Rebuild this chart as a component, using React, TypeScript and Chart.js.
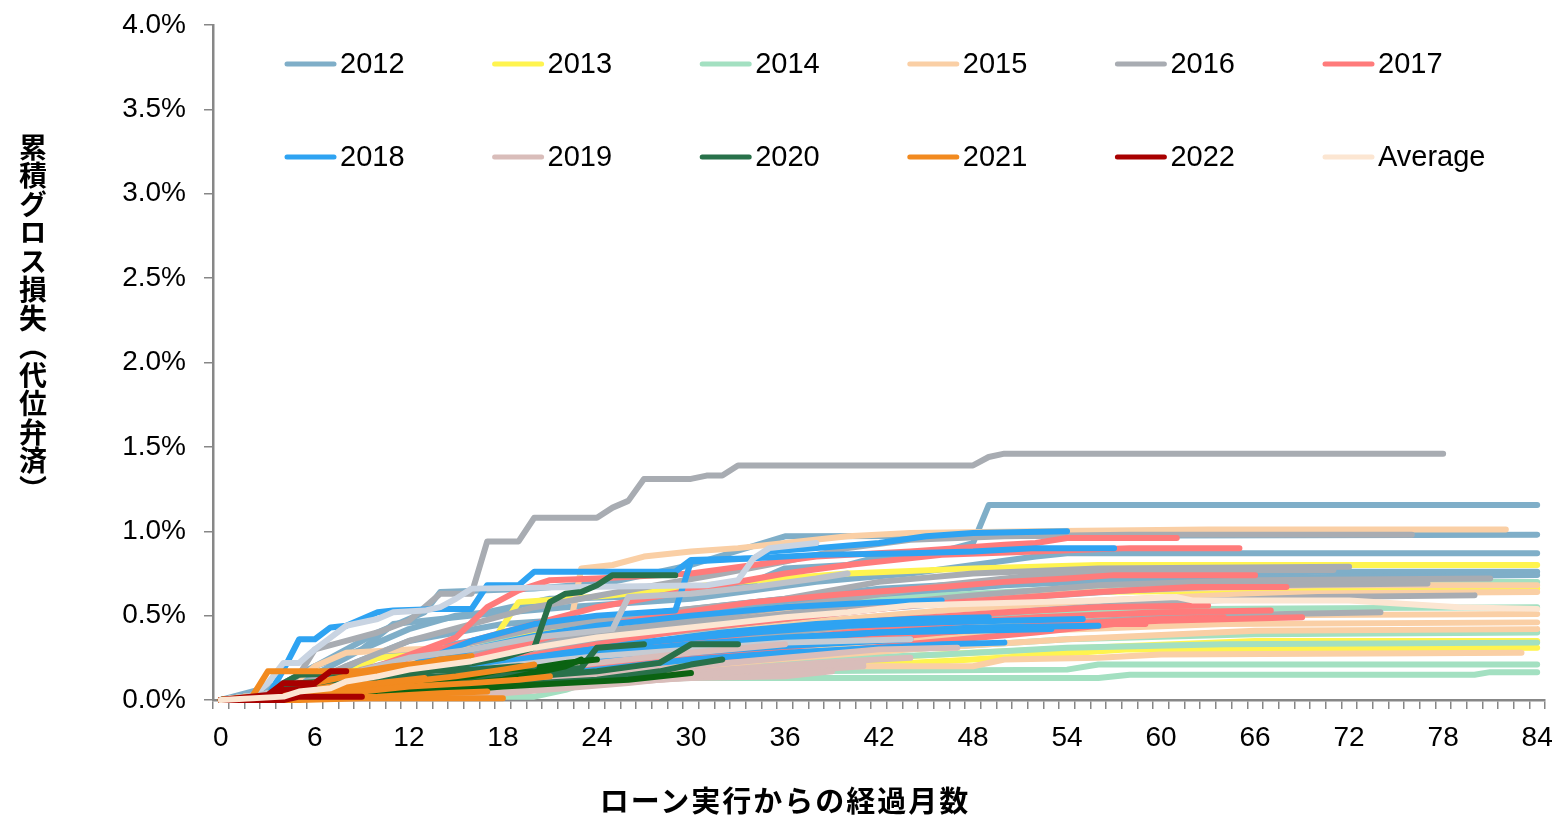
import React, { useEffect, useRef } from 'react';
import { Chart, registerables } from 'chart.js';

Chart.register(...registerables);

type Pt = [number, number];

// ---------- axis / legend text ----------
const MONTHS: string[] = Array.from({ length: 85 }, (_, i) => String(i));
const X_LABEL_EVERY = 6;
const Y_MIN = 0;
const Y_MAX = 4;
const Y_STEP = 0.5;
const LEGEND_LABELS = ['2012', '2013', '2014', '2015', '2016', '2017', '2018', '2019', '2020', '2021', '2022', 'Average'];
const Y_TITLE = '累積グロス損失（代位弁済）';
const X_TITLE = 'ローン実行からの経過月数';

// ---------- series: [month, cumulative loss %] breakpoints ----------
// 2012
const S2012_A: Pt[] = [[0, 0], [3, 0.05], [6, 0.2], [9, 0.3], [12, 0.42], [15, 0.5], [17, 0.52], [21, 0.6], [30, 0.62], [34, 0.7], [36, 0.78], [40, 0.8], [42, 0.85], [46, 0.88], [48, 0.93], [49, 1.155], [84, 1.155]];
const S2012_B: Pt[] = [[0, 0], [4, 0.1], [7, 0.25], [10, 0.4], [13, 0.52], [14, 0.64], [20, 0.66], [25, 0.7], [30, 0.8], [36, 0.97], [84, 0.98]];
const S2012_C: Pt[] = [[0, 0], [3, 0.02], [6, 0.15], [9, 0.3], [11, 0.45], [16, 0.5], [22, 0.55], [30, 0.6], [38, 0.7], [44, 0.75], [52, 0.85], [54, 0.87], [84, 0.87]];
const S2012_D: Pt[] = [[0, 0], [5, 0.05], [8, 0.2], [12, 0.35], [18, 0.45], [26, 0.5], [34, 0.58], [42, 0.66], [50, 0.7], [60, 0.74], [70, 0.76], [84, 0.76]];
const S2012_E: Pt[] = [[0, 0], [6, 0.1], [10, 0.25], [16, 0.35], [24, 0.45], [34, 0.55], [42, 0.62], [50, 0.68], [60, 0.72], [84, 0.74]];
// 2013
const S2013_A: Pt[] = [[0, 0], [4, 0.05], [8, 0.15], [10, 0.25], [17, 0.3], [19, 0.58], [25, 0.62], [33, 0.7], [40, 0.75], [48, 0.78], [56, 0.8], [84, 0.8]];
const S2013_B: Pt[] = [[0, 0], [6, 0.03], [12, 0.08], [18, 0.12], [24, 0.15], [36, 0.22], [48, 0.28], [58, 0.32], [66, 0.35], [84, 0.35]];
const S2013_C: Pt[] = [[0, 0], [8, 0.02], [16, 0.06], [24, 0.12], [36, 0.18], [48, 0.24], [58, 0.3], [84, 0.31]];
const S2013_D: Pt[] = [[0, 0], [5, 0.05], [10, 0.2], [14, 0.3], [20, 0.4], [30, 0.5], [42, 0.58], [54, 0.64], [84, 0.66]];
// 2014
const S2014_A: Pt[] = [[0, 0], [4, 0.05], [10, 0.2], [18, 0.35], [26, 0.45], [36, 0.55], [46, 0.62], [56, 0.67], [68, 0.7], [84, 0.7]];
const S2014_B: Pt[] = [[0, 0], [5, 0.05], [12, 0.15], [20, 0.25], [30, 0.35], [40, 0.43], [50, 0.5], [62, 0.54], [84, 0.55]];
const S2014_C: Pt[] = [[0, 0], [6, 0.03], [14, 0.1], [24, 0.18], [34, 0.25], [44, 0.3], [54, 0.36], [66, 0.39], [84, 0.4]];
const S2014_D: Pt[] = [[0, 0], [6, 0.02], [14, 0.08], [22, 0.14], [30, 0.2], [38, 0.24], [46, 0.27], [54, 0.31], [64, 0.33], [84, 0.34]];
const S2014_E: Pt[] = [[0, 0], [8, 0.02], [16, 0.05], [22, 0.1], [28, 0.15], [36, 0.17], [54, 0.18], [56, 0.21], [84, 0.21]];
const S2014_F: Pt[] = [[0, 0], [2, 0.02], [20, 0.02], [22, 0.06], [24, 0.12], [30, 0.13], [56, 0.13], [58, 0.15], [80, 0.15], [81, 0.165], [84, 0.165]];
// 2015
const S2015_A: Pt[] = [[0, 0], [4, 0.05], [8, 0.12], [12, 0.2], [16, 0.25], [20, 0.28], [22, 0.3], [23, 0.78], [25, 0.8], [27, 0.85], [30, 0.88], [33, 0.9], [36, 0.93], [40, 0.97], [44, 0.99], [52, 1.0], [63, 1.01], [82, 1.01]];
const S2015_B: Pt[] = [[0, 0], [4, 0.05], [10, 0.18], [16, 0.3], [24, 0.42], [32, 0.5], [40, 0.56], [48, 0.61], [58, 0.65], [70, 0.68], [84, 0.68]];
const S2015_C: Pt[] = [[0, 0], [4, 0.05], [6, 0.2], [8, 0.28], [12, 0.3], [18, 0.32], [26, 0.38], [36, 0.45], [46, 0.53], [56, 0.59], [66, 0.63], [84, 0.64]];
const S2015_D: Pt[] = [[0, 0], [6, 0.04], [12, 0.12], [20, 0.22], [30, 0.32], [40, 0.4], [50, 0.46], [62, 0.5], [84, 0.51]];
const S2015_E: Pt[] = [[0, 0], [6, 0.03], [14, 0.1], [22, 0.18], [32, 0.27], [42, 0.35], [52, 0.41], [64, 0.45], [84, 0.46]];
const S2015_F: Pt[] = [[0, 0], [7, 0.03], [15, 0.08], [24, 0.15], [34, 0.23], [44, 0.3], [54, 0.36], [66, 0.41], [84, 0.42]];
const S2015_G: Pt[] = [[0, 0], [6, 0.02], [12, 0.06], [18, 0.1], [24, 0.15], [30, 0.18], [36, 0.2], [48, 0.2], [50, 0.24], [56, 0.25], [60, 0.27], [83, 0.28]];
// 2016
const S2016_A: Pt[] = [[0, 0], [3, 0], [5, 0.15], [6, 0.3], [8, 0.35], [10, 0.4], [12, 0.47], [13, 0.55], [14, 0.63], [16, 0.63], [17, 0.94], [19, 0.94], [20, 1.08], [24, 1.08], [25, 1.14], [26, 1.18], [27, 1.31], [30, 1.31], [31, 1.33], [32, 1.33], [33, 1.39], [48, 1.39], [49, 1.44], [50, 1.46], [78, 1.46]];
const S2016_B: Pt[] = [[0, 0], [4, 0.05], [8, 0.2], [12, 0.35], [16, 0.45], [20, 0.55], [26, 0.65], [32, 0.75], [36, 0.82], [40, 0.9], [44, 0.95], [50, 0.97], [58, 0.98], [76, 0.98]];
const S2016_C: Pt[] = [[0, 0], [5, 0.05], [9, 0.18], [14, 0.3], [20, 0.42], [28, 0.52], [36, 0.6], [42, 0.7], [48, 0.75], [56, 0.78], [72, 0.79]];
const S2016_D: Pt[] = [[0, 0], [6, 0.05], [10, 0.15], [16, 0.28], [24, 0.4], [32, 0.5], [40, 0.6], [46, 0.68], [52, 0.74], [60, 0.77], [71, 0.77]];
const S2016_E: Pt[] = [[0, 0], [5, 0.04], [10, 0.14], [16, 0.25], [24, 0.37], [32, 0.47], [40, 0.55], [48, 0.62], [56, 0.68], [66, 0.71], [81, 0.72]];
const S2016_F: Pt[] = [[0, 0], [6, 0.04], [12, 0.15], [18, 0.25], [26, 0.37], [34, 0.46], [42, 0.54], [50, 0.6], [58, 0.65], [66, 0.68], [77, 0.69]];
const S2016_G: Pt[] = [[0, 0], [6, 0.03], [12, 0.12], [20, 0.22], [28, 0.32], [36, 0.4], [44, 0.47], [52, 0.53], [60, 0.58], [70, 0.61], [80, 0.62]];
const S2016_H: Pt[] = [[0, 0], [7, 0.03], [14, 0.1], [22, 0.18], [30, 0.27], [38, 0.35], [46, 0.41], [54, 0.46], [62, 0.5], [74, 0.52]];
// light grey / grey-blue vintages
const S_LIGHT_A: Pt[] = [[0, 0], [2, 0.02], [3, 0.1], [4, 0.22], [5, 0.22], [6, 0.3], [7, 0.37], [8, 0.44], [10, 0.48], [11, 0.52], [13, 0.53], [14, 0.55], [15, 0.6], [16, 0.66], [31, 0.68], [33, 0.71], [34, 0.84], [35, 0.9], [38, 0.93]];
const S_LIGHT_B: Pt[] = [[0, 0], [4, 0.05], [8, 0.15], [12, 0.25], [16, 0.3], [20, 0.37], [25, 0.42], [26, 0.61], [30, 0.63], [34, 0.67], [38, 0.72], [40, 0.75]];
const S_LIGHT_C: Pt[] = [[0, 0], [6, 0.05], [12, 0.12], [18, 0.2], [24, 0.26], [30, 0.3], [36, 0.34], [44, 0.36]];
// 2017
const S2017_A: Pt[] = [[0, 0], [3, 0.02], [6, 0.1], [10, 0.2], [13, 0.3], [15, 0.37], [17, 0.55], [19, 0.65], [21, 0.71], [24, 0.72], [30, 0.75], [34, 0.8], [38, 0.85], [44, 0.88], [50, 0.92], [52, 0.93], [54, 0.96], [61, 0.96]];
const S2017_B: Pt[] = [[0, 0], [4, 0.03], [8, 0.12], [12, 0.25], [18, 0.4], [24, 0.55], [30, 0.65], [36, 0.75], [40, 0.8], [46, 0.86], [52, 0.88], [58, 0.9], [65, 0.9]];
const S2017_C: Pt[] = [[0, 0], [5, 0.03], [10, 0.12], [16, 0.25], [22, 0.4], [28, 0.5], [34, 0.58], [40, 0.63], [46, 0.67], [50, 0.7], [54, 0.72], [57, 0.74], [66, 0.74]];
const S2017_D: Pt[] = [[0, 0], [5, 0.03], [10, 0.1], [16, 0.2], [22, 0.3], [30, 0.42], [38, 0.5], [44, 0.56], [50, 0.6], [56, 0.64], [62, 0.67], [68, 0.67]];
const S2017_E: Pt[] = [[0, 0], [6, 0.03], [12, 0.1], [18, 0.2], [26, 0.3], [34, 0.4], [42, 0.47], [50, 0.52], [56, 0.55], [63, 0.56]];
const S2017_F: Pt[] = [[0, 0], [6, 0.02], [12, 0.08], [20, 0.17], [28, 0.27], [36, 0.36], [44, 0.44], [52, 0.49], [60, 0.52], [67, 0.53]];
const S2017_G: Pt[] = [[0, 0], [7, 0.02], [14, 0.08], [22, 0.16], [30, 0.25], [38, 0.33], [46, 0.4], [54, 0.45], [60, 0.48], [64, 0.49]];
const S2017_H: Pt[] = [[0, 0], [6, 0.02], [12, 0.06], [20, 0.14], [28, 0.24], [36, 0.32], [44, 0.39], [52, 0.44], [60, 0.47], [69, 0.49]];
const S2017_I: Pt[] = [[0, 0], [7, 0.02], [14, 0.06], [22, 0.13], [30, 0.2], [38, 0.28], [46, 0.35], [52, 0.4], [55, 0.43], [57, 0.45], [59, 0.45]];
// 2018
const S2018_A: Pt[] = [[0, 0], [3, 0.02], [4, 0.18], [5, 0.36], [6, 0.36], [7, 0.43], [8, 0.44], [10, 0.52], [11, 0.53], [14, 0.54], [16, 0.54], [17, 0.68], [19, 0.68], [20, 0.76], [29, 0.76], [30, 0.83], [34, 0.84], [35, 0.88], [38, 0.9], [42, 0.93], [45, 0.97], [48, 0.99], [54, 1.0]];
const S2018_B: Pt[] = [[0, 0], [4, 0.03], [8, 0.1], [12, 0.2], [16, 0.35], [20, 0.45], [24, 0.5], [29, 0.53], [30, 0.82], [34, 0.84], [38, 0.86], [44, 0.87], [48, 0.88], [52, 0.9], [57, 0.9]];
const S2018_C: Pt[] = [[0, 0], [4, 0.02], [8, 0.1], [12, 0.2], [16, 0.3], [20, 0.38], [24, 0.44], [30, 0.5], [36, 0.55], [42, 0.58], [46, 0.59]];
const S2018_D: Pt[] = [[0, 0], [5, 0.02], [10, 0.08], [14, 0.15], [20, 0.25], [26, 0.33], [32, 0.4], [38, 0.45], [44, 0.48], [49, 0.49]];
const S2018_E: Pt[] = [[0, 0], [5, 0.02], [10, 0.1], [16, 0.2], [22, 0.28], [28, 0.35], [34, 0.4], [40, 0.44], [46, 0.46], [50, 0.47], [55, 0.48]];
const S2018_F: Pt[] = [[0, 0], [6, 0.02], [12, 0.08], [18, 0.16], [24, 0.24], [30, 0.3], [36, 0.36], [42, 0.4], [48, 0.43], [56, 0.44]];
const S2018_G: Pt[] = [[0, 0], [6, 0.02], [12, 0.06], [18, 0.12], [24, 0.18], [30, 0.24], [36, 0.28], [42, 0.31], [46, 0.33], [50, 0.34]];
const S2018_H: Pt[] = [[0, 0], [5, 0.03], [8, 0.1], [12, 0.15], [18, 0.22], [24, 0.28], [30, 0.33], [36, 0.37], [42, 0.4], [48, 0.41], [53, 0.42]];
const S2018_I: Pt[] = [[0, 0], [6, 0.02], [12, 0.1], [18, 0.18], [24, 0.24], [30, 0.28], [36, 0.32], [44, 0.36]];
// 2019
const S2019_A: Pt[] = [[0, 0], [6, 0.02], [12, 0.05], [18, 0.1], [24, 0.15], [30, 0.2], [36, 0.25], [42, 0.3], [47, 0.31]];
const S2019_B: Pt[] = [[0, 0], [8, 0.02], [14, 0.05], [20, 0.1], [26, 0.14], [32, 0.18], [38, 0.22], [44, 0.25]];
const S2019_C: Pt[] = [[0, 0], [8, 0.01], [16, 0.04], [22, 0.08], [28, 0.12], [34, 0.16], [38, 0.18], [41, 0.2]];
const S2019_D: Pt[] = [[0, 0], [10, 0.02], [18, 0.06], [24, 0.1], [30, 0.13], [36, 0.14], [39, 0.17]];
const S2019_E: Pt[] = [[0, 0], [6, 0.02], [12, 0.08], [18, 0.15], [24, 0.22], [30, 0.28], [36, 0.33]];
const S2019_F: Pt[] = [[0, 0], [10, 0.01], [18, 0.04], [26, 0.1], [32, 0.16], [36, 0.2], [41, 0.22]];
// 2020
const S2020_A: Pt[] = [[0, 0], [3, 0], [4, 0.08], [6, 0.1], [9, 0.12], [12, 0.15], [15, 0.2], [18, 0.25], [20, 0.31], [21, 0.58], [22, 0.63], [23, 0.64], [24, 0.68], [25, 0.74], [29, 0.74]];
const S2020_B: Pt[] = [[0, 0], [3, 0.02], [5, 0.1], [8, 0.12], [12, 0.13], [16, 0.15], [20, 0.17], [23, 0.19], [24, 0.31], [27, 0.33]];
const S2020_C: Pt[] = [[0, 0], [4, 0.03], [8, 0.08], [12, 0.1], [16, 0.12], [20, 0.14], [24, 0.17], [28, 0.22], [30, 0.33], [33, 0.33]];
const S2020_D: Pt[] = [[0, 0], [4, 0.02], [8, 0.05], [14, 0.08], [20, 0.1], [24, 0.12], [28, 0.17], [30, 0.21], [32, 0.24]];
const S2020_E: Pt[] = [[0, 0], [4, 0.03], [8, 0.06], [12, 0.1], [16, 0.14], [18, 0.18], [20, 0.19], [22, 0.22], [24, 0.24]];
const S2020_F: Pt[] = [[0, 0], [5, 0.02], [10, 0.05], [14, 0.08], [18, 0.12], [20, 0.16], [22, 0.2], [23, 0.24]];
const S2020_G: Pt[] = [[0, 0], [3, 0.02], [4, 0.1], [5, 0.15], [8, 0.16], [12, 0.17], [16, 0.18], [19, 0.2], [20, 0.2]];
const S2020_H: Pt[] = [[0, 0], [6, 0.01], [10, 0.02], [14, 0.05], [18, 0.08], [22, 0.1], [26, 0.12], [30, 0.16]];
// 2021
const S2021_A: Pt[] = [[0, 0], [2, 0.02], [3, 0.17], [9, 0.17], [11, 0.2], [13, 0.22], [14, 0.24], [16, 0.26]];
const S2021_B: Pt[] = [[0, 0], [4, 0.02], [6, 0.1], [8, 0.14], [10, 0.17], [12, 0.2], [14, 0.22], [15, 0.24]];
const S2021_C: Pt[] = [[0, 0], [3, 0.01], [6, 0.04], [9, 0.08], [12, 0.11], [15, 0.14], [18, 0.18], [20, 0.21]];
const S2021_D: Pt[] = [[0, 0], [5, 0.02], [8, 0.04], [12, 0.08], [16, 0.1], [19, 0.12], [21, 0.14]];
const S2021_E: Pt[] = [[0, 0], [6, 0.01], [10, 0.02], [14, 0.04], [17, 0.05]];
const S2021_F: Pt[] = [[0, 0], [5, 0], [9, 0.01], [13, 0.01], [18, 0.01]];
const S2021_G: Pt[] = [[0, 0], [4, 0.03], [7, 0.08], [10, 0.1], [13, 0.13]];
// 2022
const S2022_A: Pt[] = [[0, 0], [3, 0.03], [4, 0.1], [6, 0.1], [7, 0.17], [8, 0.17]];
const S2022_B: Pt[] = [[0, 0], [4, 0], [5, 0.02], [9, 0.02]];
const S2022_C: Pt[] = [[0, 0], [3, 0.01], [4, 0.06], [6, 0.07]];
// Average
const S_AVERAGE: Pt[] = [[0, 0], [4, 0.02], [5, 0.05], [7, 0.07], [8, 0.11], [10, 0.14], [12, 0.18], [16, 0.23], [20, 0.31], [24, 0.37], [28, 0.41], [33, 0.46], [36, 0.49], [40, 0.52], [44, 0.56], [48, 0.57], [52, 0.58], [56, 0.59], [61, 0.61], [62, 0.59], [72, 0.59], [79, 0.55], [84, 0.54]];

// series in drawing order (later on top), with group key
const SERIES: [string, Pt[]][] = [
  ['2012', S2012_A], ['2012', S2012_B], ['2012', S2012_C], ['2012', S2012_D], ['2012', S2012_E],
  ['2013', S2013_A], ['2013', S2013_B], ['2013', S2013_C], ['2013', S2013_D],
  ['2014', S2014_A], ['2014', S2014_B], ['2014', S2014_C], ['2014', S2014_D], ['2014', S2014_E], ['2014', S2014_F],
  ['2015', S2015_A], ['2015', S2015_B], ['2015', S2015_C], ['2015', S2015_D], ['2015', S2015_E], ['2015', S2015_F], ['2015', S2015_G],
  ['2016', S2016_A], ['2016', S2016_B], ['2016', S2016_C], ['2016', S2016_D], ['2016', S2016_E], ['2016', S2016_F], ['2016', S2016_G], ['2016', S2016_H],
  ['2017', S2017_A], ['2017', S2017_B], ['2017', S2017_C], ['2017', S2017_D], ['2017', S2017_E], ['2017', S2017_F], ['2017', S2017_G], ['2017', S2017_H], ['2017', S2017_I],
  ['2018', S2018_A], ['2018', S2018_B], ['2018', S2018_C], ['2018', S2018_D], ['2018', S2018_E], ['2018', S2018_F], ['2018', S2018_G], ['2018', S2018_H], ['2018', S2018_I],
  ['lightA', S_LIGHT_A], ['lightB', S_LIGHT_B], ['lightC', S_LIGHT_C],
  ['2019', S2019_A], ['2019', S2019_B], ['2019', S2019_C], ['2019', S2019_D], ['2019', S2019_E], ['2019', S2019_F],
  ['2020', S2020_A], ['2020', S2020_B], ['2020', S2020_C], ['2020', S2020_D], ['2020dk', S2020_E], ['2020dk', S2020_F], ['2020', S2020_G], ['2020dk', S2020_H],
  ['2021', S2021_A], ['2021', S2021_B], ['2021', S2021_C], ['2021', S2021_D], ['2021', S2021_E], ['2021', S2021_F], ['2021', S2021_G],
  ['2022', S2022_A], ['2022', S2022_B], ['2022', S2022_C],
  ['Average', S_AVERAGE],
];

// ---------- styles ----------
const COLORS: Record<string, string> = {
  '2012': '#7FAEC8',
  '2013': '#FFF44F',
  '2014': '#A3E0C1',
  '2015': '#FACFA5',
  '2016': '#A8ACB2',
  '2017': '#FF7B7B',
  '2018': '#2EA3F2',
  '2019': '#D9BDBA',
  '2020': '#28714A',
  '2020dk': '#0B6312',
  '2021': '#F28A1F',
  '2022': '#A80000',
  'Average': '#FCE6D2',
  lightA: '#C9D4E2',
  lightB: '#BEC2C9',
  lightC: '#C7CBD2',
};
const FONT = '"Liberation Sans", Arial, sans-serif';
const AXIS_COLOR = '#878787';

const legendPlugin = {
  id: 'insideLegend',
  afterDraw(chart: any) {
    const ctx = chart.ctx as CanvasRenderingContext2D;
    ctx.save();
    ctx.font = `29px ${FONT}`;
    ctx.textBaseline = 'middle';
    ctx.textAlign = 'left';
    LEGEND_LABELS.forEach((lab, i) => {
      const row = Math.floor(i / 6);
      const col = i % 6;
      const x0 = 279 + col * 207.6;
      const y = 56 + row * 93;
      ctx.strokeStyle = COLORS[lab];
      ctx.lineWidth = 5;
      ctx.lineCap = 'round';
      ctx.beginPath();
      ctx.moveTo(x0, y);
      ctx.lineTo(x0 + 47, y);
      ctx.stroke();
      ctx.fillStyle = '#000';
      ctx.fillText(lab, x0 + 53, y + 1);
    });
    ctx.restore();
  },
};

export default function App() {
  const canvasRef = useRef<HTMLCanvasElement | null>(null);

  useEffect(() => {
    if (!canvasRef.current) return;
    const n = SERIES.length;
    const datasets = SERIES.map(([key, pts], i) => ({
      label: key,
      data: pts.map(([m, v]) => ({ x: String(m), y: v })),
      borderColor: COLORS[key],
      backgroundColor: COLORS[key],
      borderWidth: 6,
      pointRadius: 0,
      pointHoverRadius: 0,
      tension: 0,
      fill: false,
      borderCapStyle: 'round' as const,
      borderJoinStyle: 'round' as const,
      clip: false as const,
      order: n - i,
    }));

    const chart = new Chart(canvasRef.current, {
      type: 'line',
      data: { labels: MONTHS, datasets },
      plugins: [legendPlugin],
      options: {
        animation: false,
        responsive: false,
        devicePixelRatio: 1,
        events: [],
        layout: { padding: { top: 17, right: 7, left: 0, bottom: 0 } },
        plugins: { legend: { display: false }, tooltip: { enabled: false }, title: { display: false } },
        scales: {
          x: {
            type: 'category',
            offset: true,
            grid: {
              offset: true,
              drawOnChartArea: false,
              drawTicks: true,
              tickLength: 9,
              color: AXIS_COLOR,
              lineWidth: 1.5,
            },
            border: { color: AXIS_COLOR, width: 2.5 },
            ticks: {
              autoSkip: false,
              maxRotation: 0,
              minRotation: 0,
              padding: 12,
              color: '#000',
              font: { family: FONT, size: 28 },
              callback: (_v: any, i: number) => (i % X_LABEL_EVERY === 0 ? MONTHS[i] : ''),
            },
            afterFit: (s: any) => { s.height = 118; s.paddingLeft = 0; s.paddingRight = 0; },
          },
          y: {
            min: Y_MIN,
            max: Y_MAX,
            grid: {
              drawOnChartArea: false,
              drawTicks: true,
              tickLength: 9,
              color: AXIS_COLOR,
              lineWidth: 1.5,
            },
            border: { color: AXIS_COLOR, width: 2.5 },
            ticks: {
              stepSize: Y_STEP,
              padding: 18,
              color: '#000',
              font: { family: FONT, size: 28 },
              callback: (v: any) => `${Number(v).toFixed(1)}%`,
            },
            afterFit: (s: any) => { s.width = 205; s.paddingTop = 0; s.paddingBottom = 0; },
          },
        },
      },
    });
    return () => chart.destroy();
  }, []);

  return (
    <div style={{ position: 'relative', width: 1544, height: 810 }}>
      <canvas ref={canvasRef} width={1544} height={810} style={{ display: 'block' }} />
      <div
        style={{
          position: 'absolute',
          left: 10,
          top: 125,
          writingMode: 'vertical-rl',
          fontFamily: '"Noto Sans CJK JP", sans-serif',
          fontWeight: 700,
          fontSize: 28,
          lineHeight: '30px',
          letterSpacing: 0.5,
          color: '#000',
          whiteSpace: 'nowrap',
        }}
      >
        {Y_TITLE}
      </div>
      <div
        style={{
          position: 'absolute',
          left: 777,
          top: 776,
          transform: 'translateX(-50%)',
          fontFamily: '"Noto Sans CJK JP", sans-serif',
          fontWeight: 700,
          fontSize: 29,
          lineHeight: '30px',
          letterSpacing: 2,
          color: '#000',
          whiteSpace: 'nowrap',
        }}
      >
        {X_TITLE}
      </div>
    </div>
  );
}
